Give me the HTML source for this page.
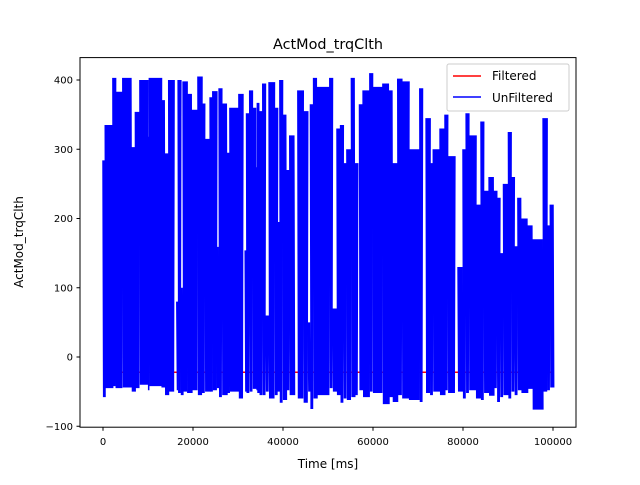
<!DOCTYPE html>
<html><head><meta charset="utf-8"><style>
body{margin:0;background:#fff}
svg text{font-family:"DejaVu Sans","Liberation Sans",sans-serif;fill:#000}
</style></head><body>
<svg id="chart" width="640" height="480" xmlns="http://www.w3.org/2000/svg">
<rect width="640" height="480" fill="#fff"/>
<text x="328" y="49" font-size="14.4" text-anchor="middle">ActMod_trqClth</text>
<g id="plot"></g>
<rect x="80" y="57.6" width="496" height="369.6" fill="none" stroke="#000" stroke-width="1"/>
<g id="xt"></g>
<g id="yt"></g>
<text x="328" y="468" font-size="12" text-anchor="middle">Time [ms]</text>
<text transform="translate(23,242) rotate(-90)" font-size="12" text-anchor="middle">ActMod_trqClth</text>
<g>
<rect x="447" y="64" width="122" height="47" rx="2" fill="#fff" fill-opacity="0.8" stroke="#ccc"/>
<line x1="453" y1="76" x2="481" y2="76" stroke="#f00" stroke-width="1.5"/>
<text x="492" y="80" font-size="12">Filtered</text>
<line x1="453" y1="97" x2="481" y2="97" stroke="#00f" stroke-width="1.5"/>
<text x="492" y="102" font-size="12">UnFiltered</text>
</g>
</svg>
<script>
const segStart=[0,0.5,2.2,2.8,4.4,6.4,7.2,8.2,10,10.3,13,13.8,14.6,15.8,16.4,16.7,17.3,17.8,18.7,19.8,21.1,22,22.7,23.8,24.4,25.3,25.8,26.5,27.6,28.2,30.2,31.1,31.6,31.9,32.6,33.3,34.1,34.3,34.8,35.5,36.2,36.9,38.2,38.8,39.3,40,40.8,41.5,42.6,43.3,44.6,45.6,46.1,46.8,47.6,50.4,51.1,52,52.8,53.5,54.2,55.2,56,56.6,57,57.8,59.3,60,62.2,63.6,64.4,65.5,66.5,68,70.4,71,71.8,72.7,73.4,74.9,76,76.7,78.2,78.9,80,80.7,81.4,82.9,84,84.7,85.8,86.9,87.6,88.3,89,90.1,90.8,91.5,92.2,93,94.4,95.5,97.8,98.7,99.4,100.2];
const segMax=[284,335,403,383,403,303,354,400,318,403,371,294,400,null,80,400,100,398,380,357,405,366,315,375,384,159,388,366,295,360,380,null,154,352,385,360,274,367,355,395,60,397,360,195,400,350,270,320,null,385,355,50,365,403,390,403,70,330,335,280,300,403,280,null,365,385,410,390,395,385,280,402,398,300,388,null,345,280,300,330,350,290,null,130,300,352,320,220,340,240,260,240,230,150,250,325,260,160,230,200,190,170,345,190,220];
const segMin=[-58,-45,-42,-45,-44,-50,-45,-40,-48,-42,-44,-55,-50,null,-48,-52,-55,-50,-52,-48,-55,-52,-50,-50,-48,-45,-58,-55,-52,-50,-60,null,-50,-52,-50,-46,-48,-52,-55,-55,-50,-60,-55,-50,-66,-62,-48,-55,null,-60,-66,-50,-75,-60,-55,-45,-50,-55,-66,-60,-62,-58,-55,-40,-48,-58,-50,-52,-68,-58,-65,-55,-60,-62,-65,null,-52,-55,-50,-55,-48,-52,-44,-50,-60,-52,-48,-60,-62,-52,-56,-45,-65,-58,-55,-60,-50,-55,-48,-52,-46,-76,-50,-48,-44];
const filteredLevel=[-22];
const xTicks=[0,20000,40000,60000,80000,100000];
const yTicks=[-100,0,100,200,300,400];
const X=t=>103+t*0.0045, Y=v=>357-v*0.6925;
const NS="http://www.w3.org/2000/svg";
const plot=document.getElementById('plot');
function mk(tag,attrs,parent){const e=document.createElementNS(NS,tag);for(const k in attrs)e.setAttribute(k,attrs[k]);if(parent)parent.appendChild(e);return e;}
const clip=mk('clipPath',{id:'cp'},plot);mk('rect',{x:80,y:57.6,width:496,height:369.6},clip);
const red=mk('line',{x1:X(0),x2:X(100200),y1:Y(filteredLevel[0]),y2:Y(filteredLevel[0]),stroke:'#f00','stroke-width':1.5},plot);


for(let i=0;i<segMax.length;i++){
  if(segMax[i]===null||segMax[i]===undefined)continue;
  const t0=segStart[i]*1000,t1=(segStart[i+1]!==undefined?segStart[i+1]:100.2)*1000;
  const mn=(segMin[i]===null||segMin[i]===undefined)?-50:segMin[i];
  let pts=[],k=0;
  for(let t=t0;t<=t1;t+=150,k++){pts.push(X(t).toFixed(2)+','+Y(k%2?mn:segMax[i]).toFixed(2));}
  const p=mk('polyline',{points:pts.join(' '),fill:'none',stroke:'#00f','stroke-width':1.5,'clip-path':'url(#cp)'},plot);
  
  
}
const xt=document.getElementById('xt'),yt=document.getElementById('yt');
xTicks.forEach(v=>{const x=X(v);mk('line',{x1:x,x2:x,y1:427.2,y2:430.7,stroke:'#000'},xt);
 const t=mk('text',{x:x,y:445,'font-size':10,'text-anchor':'middle'},xt);t.textContent=v;
 
 });
yTicks.forEach(v=>{const y=Y(v);mk('line',{x1:76.5,x2:80,y1:y,y2:y,stroke:'#000'},yt);
 const t=mk('text',{x:73,y:y+3.5,'font-size':10,'text-anchor':'end'},yt);t.textContent=v===-100?'\u2212100':v;
 
 });
</script>
</body></html>
